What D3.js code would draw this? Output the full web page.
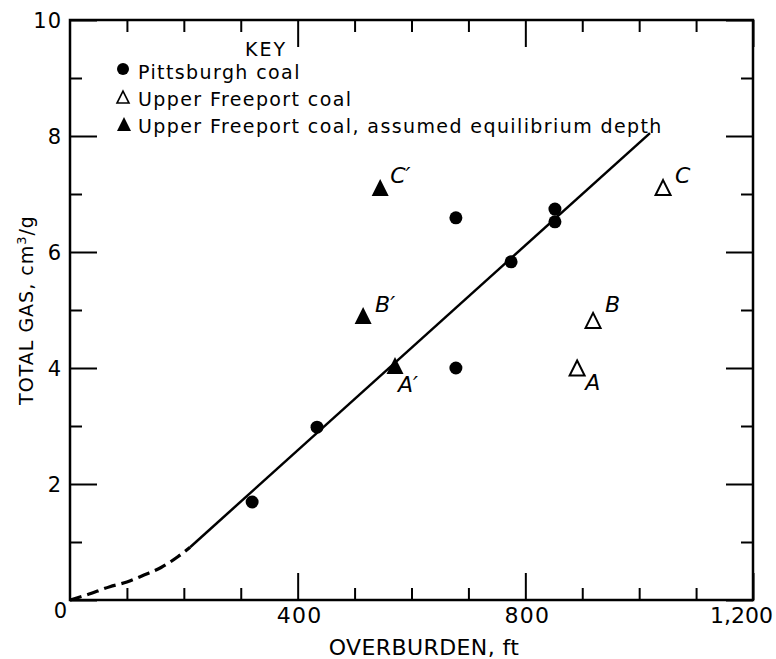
<!DOCTYPE html>
<html><head><meta charset="utf-8">
<script src="https://cdn.jsdelivr.net/npm/d3@7"></script>
<style>body{margin:0;background:#fff}svg{display:block}text{font-family:"DejaVu Sans",sans-serif;fill:#000}</style>
</head><body>
<svg id="c" width="776" height="659"></svg>
<script>
// Data
const pittsburghX = [320, 434, 678, 678, 775, 852, 852];
const pittsburghY = [1.69, 2.98, 6.59, 4.0, 5.83, 6.74, 6.52];
const freeportLabels = ["A", "B", "C"];
const freeportX = [891, 919, 1042];
const freeportY = [3.98, 4.8, 7.09];
const equilLabels = ["A′", "B′", "C′"];
const equilX = [571, 515, 545];
const equilY = [4.02, 4.88, 7.09];
const trendX = [211, 1019];
const trendY = [0.91, 8.05];
const dashX = [0, 30, 70, 100, 130, 160, 190, 211];
const dashY = [0, 0.09, 0.23, 0.31, 0.43, 0.56, 0.75, 0.91];
const xMajorTicks = [400, 800, 1200];
const xMinorTicks = [100, 200, 300, 500, 600, 700, 900, 1000, 1100];
const yMajorTicks = [0, 2, 4, 6, 8, 10];
const yMinorTicks = [1, 3, 5, 7, 9];
const legendLabels = ["Pittsburgh coal", "Upper Freeport coal", "Upper Freeport coal, assumed equilibrium depth"];

const svg = d3.select("#c");
const L = 70, R = 753, T = 20, B = 600;
const x = d3.scaleLinear().domain([0, 1200]).range([L, R]);
const y = d3.scaleLinear().domain([0, 10]).range([B, T]);
const MAJ = 27, MIN = 12;

function axisGroup(axis, tx, ty, vals, size) {
  const g = svg.append("g").attr("transform", `translate(${tx},${ty})`)
    .call(axis.tickValues(vals).tickSize(size).tickFormat(""));
  g.select(".domain").remove();
  g.selectAll("line").attr("stroke", "#000").attr("stroke-width", 2);
  return g;
}
// inward ticks on all four sides
axisGroup(d3.axisBottom(x), 0, B, xMajorTicks, -MAJ);
axisGroup(d3.axisBottom(x), 0, B, xMinorTicks, -MIN);
axisGroup(d3.axisTop(x), 0, T, xMajorTicks, -MAJ);
axisGroup(d3.axisTop(x), 0, T, xMinorTicks, -MIN);
axisGroup(d3.axisLeft(y), L, 0, yMajorTicks, -MAJ);
axisGroup(d3.axisLeft(y), L, 0, yMinorTicks, -MIN);
axisGroup(d3.axisRight(y), R, 0, yMajorTicks, -MAJ);
axisGroup(d3.axisRight(y), R, 0, yMinorTicks, -MIN);

// frame
svg.append("rect").attr("x", L).attr("y", T).attr("width", R - L).attr("height", B - T)
  .attr("fill", "none").attr("stroke", "#000").attr("stroke-width", 2.5);

// tick labels
const fmt = d3.format(",");
svg.append("g").selectAll("text").data(xMajorTicks).join("text")
  .attr("x", d => d === 1200 ? x(d) + 20 : x(d) + 2).attr("y", B + 23)
  .attr("text-anchor", d => d === 1200 ? "end" : "middle").attr("font-size", 22)
  .attr("letter-spacing", d => d === 1200 ? 0 : 1.2)
  .text(d => fmt(d));
svg.append("g").selectAll("text").data(yMajorTicks).join("text")
  .attr("x", d => L - (d === 0 ? 2 : 8)).attr("y", d => y(d) + (d === 0 ? 18 : 7.5))
  .attr("text-anchor", "end").attr("font-size", 21).attr("letter-spacing", 1)
  .text(d => d);

// axis titles
svg.append("text").attr("x", 424).attr("y", 655).attr("text-anchor", "middle")
  .attr("font-size", 22).attr("letter-spacing", 0.4).text("OVERBURDEN, ft");
const yt = svg.append("text").attr("transform", `translate(33,${(T + B) / 2}) rotate(-90)`)
  .attr("text-anchor", "middle").attr("font-size", 19).attr("letter-spacing", 1);
yt.append("tspan").text("TOTAL GAS,  cm");
yt.append("tspan").attr("dy", -7).attr("font-size", 13).text("3");
yt.append("tspan").attr("dy", 7).text("/g");

// curves
const line = d3.line().x(d => x(d[0])).y(d => y(d[1]));
svg.append("path").datum(dashX.map((v, i) => [v, dashY[i]]))
  .attr("d", line.curve(d3.curveMonotoneX)).attr("fill", "none").attr("stroke", "#000")
  .attr("stroke-width", 3.2).attr("stroke-dasharray", "12,6");
svg.append("path").datum(trendX.map((v, i) => [v, trendY[i]]))
  .attr("d", d3.line().x(d => x(d[0])).y(d => y(d[1]))).attr("fill", "none")
  .attr("stroke", "#000").attr("stroke-width", 2.5);

// markers
const tri = s => `M0,${-s * 0.58}L${s / 2},${s * 0.42}L${-s / 2},${s * 0.42}Z`;
svg.append("g").selectAll("circle").data(pittsburghX).join("circle")
  .attr("cx", d => x(d)).attr("cy", (d, i) => y(pittsburghY[i])).attr("r", 6.5).attr("fill", "#000");
svg.append("g").selectAll("path").data(freeportX).join("path")
  .attr("transform", (d, i) => `translate(${x(d)},${y(freeportY[i])})`)
  .attr("d", tri(15)).attr("fill", "#fff").attr("stroke", "#000").attr("stroke-width", 2);
svg.append("g").selectAll("path").data(equilX).join("path")
  .attr("transform", (d, i) => `translate(${x(d)},${y(equilY[i])})`)
  .attr("d", tri(17)).attr("fill", "#000");

// point labels
const fOff = [[8, 21], [12, -10], [12, -6]];
const eOff = [[3, 25], [12, -5], [10, -6]];
svg.append("g").selectAll("text").data(freeportLabels).join("text")
  .attr("x", (d, i) => x(freeportX[i]) + fOff[i][0]).attr("y", (d, i) => y(freeportY[i]) + fOff[i][1])
  .attr("font-size", 22).attr("font-style", "italic").text(d => d);
svg.append("g").selectAll("text").data(equilLabels).join("text")
  .attr("x", (d, i) => x(equilX[i]) + eOff[i][0]).attr("y", (d, i) => y(equilY[i]) + eOff[i][1])
  .attr("font-size", 22).attr("font-style", "italic").text(d => d);

// legend
const lg = svg.append("g");
lg.append("text").attr("x", 266).attr("y", 56).attr("text-anchor", "middle").attr("font-size", 19)
  .attr("letter-spacing", 2).text("KEY");
const rowY = [79, 106, 133];
lg.append("circle").attr("cx", 123).attr("cy", rowY[0] - 10).attr("r", 6).attr("fill", "#000");
lg.append("path").attr("transform", `translate(123,${rowY[1] - 8})`).attr("d", tri(12))
  .attr("fill", "#fff").attr("stroke", "#000").attr("stroke-width", 1.6);
lg.append("path").attr("transform", `translate(124,${rowY[2] - 8})`).attr("d", tri(14)).attr("fill", "#000");
lg.selectAll("text.item").data(legendLabels).join("text").attr("class", "item")
  .attr("x", 138).attr("y", (d, i) => rowY[i]).attr("font-size", 19).attr("letter-spacing", 1.4)
  .text(d => d);
</script>
</body></html>
